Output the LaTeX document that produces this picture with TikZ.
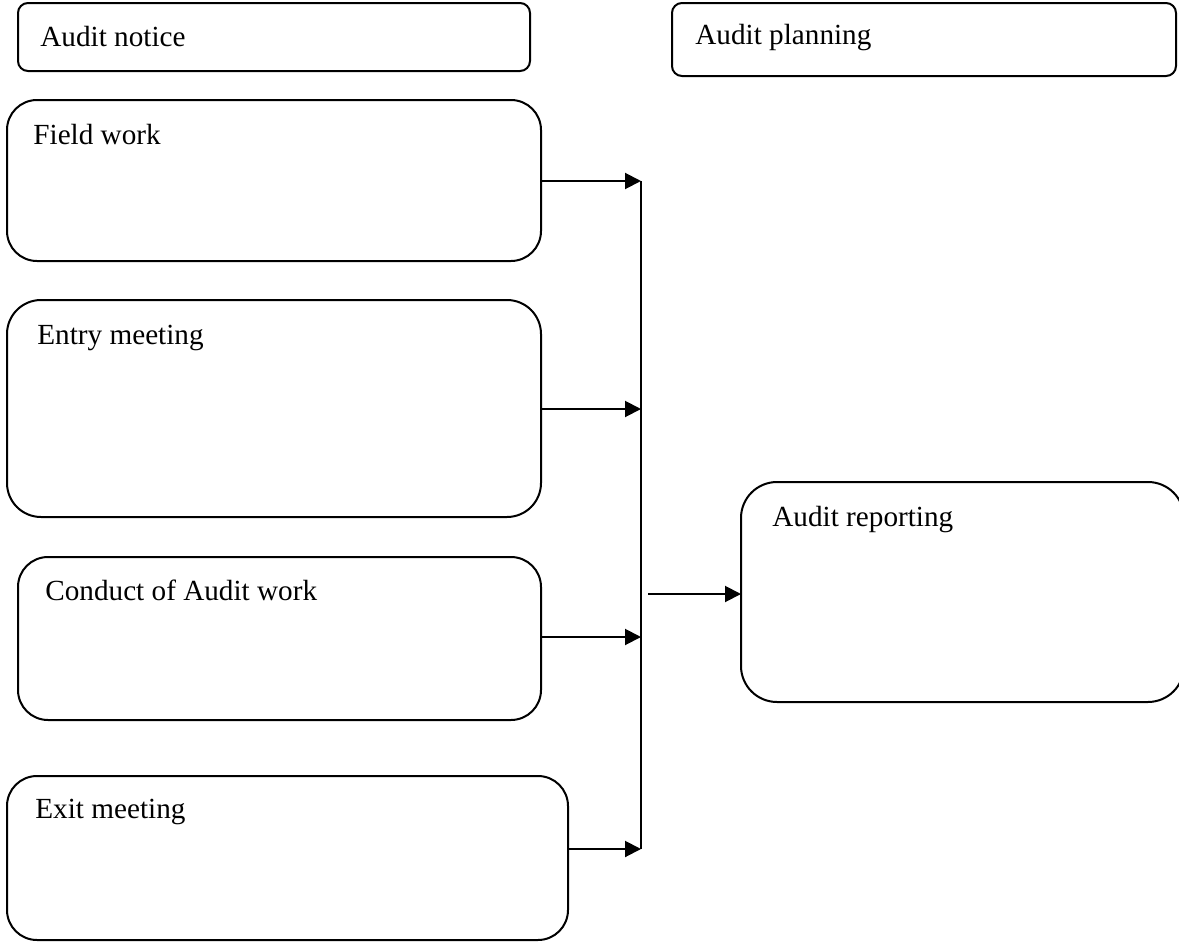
\documentclass[tikz,border=0pt]{standalone}
\usepackage{fontspec}
\setmainfont{Liberation Serif}
\usepackage{tikz}
\usetikzlibrary{arrows.meta,positioning,calc}

\tikzset{
  stagebox/.style={draw=black,line width=1pt,rectangle,rounded corners=#1},
  stagebox/.default=15pt,
  stagetext/.style={anchor=west,inner sep=0pt,font=\fontsize{14.6}{17}\selectfont},
  flow/.style={-{Triangle[length=8pt,width=8pt]},line width=1pt},
}

\begin{document}
\begin{tikzpicture}[x=0.5pt,y=-0.5pt]
  \useasboundingbox (0,0) rectangle (1179,942);

  % Top row.
  \draw[stagebox=5pt] (18,3) rectangle (530,71);
  \node[stagetext] (notice) at (40,37) {Audit notice};
  \draw[stagebox=5pt] (672,3) rectangle (1176,76);
  \node[stagetext] (planning) at (695,38) {Audit planning};

  % Stages on the left.
  \draw[stagebox] (7,100) rectangle (541,261);
  \coordinate (fieldR) at (541,181);
  \node[stagetext] (field) at (33,135) {Field work};

  \draw[stagebox=17pt] (7,300) rectangle (541,517);
  \coordinate (entryR) at (541,409);
  \node[stagetext] (entry) at (37,338) {Entry meeting};

  \draw[stagebox] (18,557) rectangle (541,720);
  \coordinate (conductR) at (541,637);
  \node[stagetext] (conduct) at (45,590) {Conduct of Audit work};

  \draw[stagebox] (7,776) rectangle (568,940);
  \coordinate (exitR) at (568,849);
  \node[stagetext] (exit) at (35,812) {Exit meeting};

  % Reporting.
  \draw[stagebox=18pt] (741,482) rectangle (1184,702);
  \coordinate (reportL) at (741,594);
  \node[stagetext] (report) at (772,520) {Audit reporting};

  % Collecting line.
  \coordinate (busT) at (641,181);
  \coordinate (busB) at (641,849);
  \draw[line width=1pt] (busT) -- (busB);
  \foreach \src in {fieldR,entryR,conductR,exitR}
    \draw[flow] (\src) -- (\src -| busT);
  \draw[flow] (648,594) -- (reportL);
\end{tikzpicture}
\end{document}
